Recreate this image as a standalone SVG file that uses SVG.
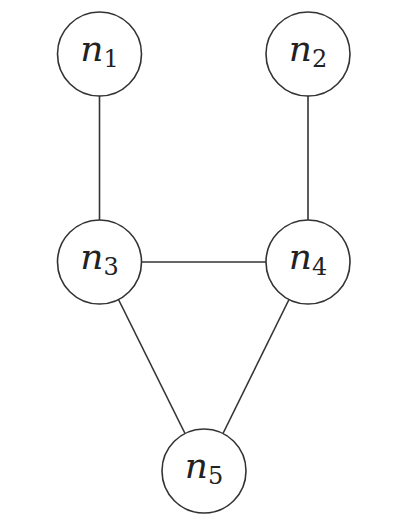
<svg xmlns="http://www.w3.org/2000/svg" width="404" height="531" viewBox="0 0 404 531">
<style>
.node circle{fill:#fff;stroke:#333;stroke-width:1.6}
.edges line{stroke:#333;stroke-width:1.6}
.lbl{fill:#222;text-anchor:middle}
.s{font-style:normal}
</style>
<rect width="404" height="531" fill="#fff"/>
<g id="edges" class="edges">
<line x1="99.5" y1="96" x2="99.5" y2="220"/>
<line x1="308" y1="96" x2="308" y2="220"/>
<line x1="141.5" y1="262" x2="266" y2="262"/>
<line x1="118.5" y1="299.5" x2="185" y2="433.5"/>
<line x1="289" y1="299.5" x2="223" y2="433.5"/>
</g>
<g id="n1" class="node"><circle cx="99.5" cy="54" r="42"/><text class="lbl" x="99.5" y="61" font-family="DejaVu Serif, serif" font-size="36" font-style="italic">n<tspan class="s" font-size="24" dy="6">1</tspan></text></g>
<g id="n2" class="node"><circle cx="308" cy="54" r="42"/><text class="lbl" x="308" y="61" font-family="DejaVu Serif, serif" font-size="36" font-style="italic">n<tspan class="s" font-size="24" dy="6">2</tspan></text></g>
<g id="n3" class="node"><circle cx="99.5" cy="262" r="42"/><text class="lbl" x="99.5" y="269" font-family="DejaVu Serif, serif" font-size="36" font-style="italic">n<tspan class="s" font-size="24" dy="6">3</tspan></text></g>
<g id="n4" class="node"><circle cx="308" cy="262" r="42"/><text class="lbl" x="308" y="269" font-family="DejaVu Serif, serif" font-size="36" font-style="italic">n<tspan class="s" font-size="24" dy="6">4</tspan></text></g>
<g id="n5" class="node"><circle cx="204" cy="471" r="42"/><text class="lbl" x="204" y="478" font-family="DejaVu Serif, serif" font-size="36" font-style="italic">n<tspan class="s" font-size="24" dy="6">5</tspan></text></g>
</svg>
